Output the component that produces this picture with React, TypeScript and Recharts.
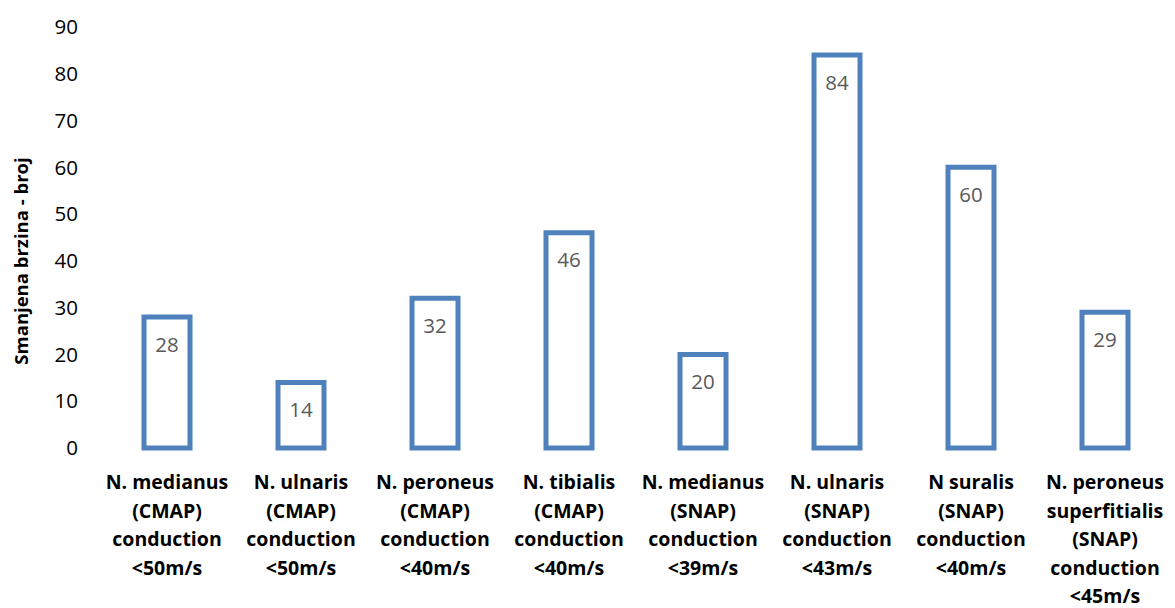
import { Bar, BarChart, LabelList, XAxis, YAxis, Label } from "recharts";

const categories = [
  "N. medianus\n(CMAP)\nconduction\n<50m/s",
  "N. ulnaris\n(CMAP)\nconduction\n<50m/s",
  "N. peroneus\n(CMAP)\nconduction\n<40m/s",
  "N. tibialis\n(CMAP)\nconduction\n<40m/s",
  "N. medianus\n(SNAP)\nconduction\n<39m/s",
  "N. ulnaris\n(SNAP)\nconduction\n<43m/s",
  "N suralis\n(SNAP)\nconduction\n<40m/s",
  "N. peroneus\nsuperfitialis\n(SNAP)\nconduction\n<45m/s",
];
const counts = [28, 14, 32, 46, 20, 84, 60, 29];
const yTicks = [0, 10, 20, 30, 40, 50, 60, 70, 80, 90];
const yTitle = "Smanjena brzina - broj";

const data = categories.map((name, i) => ({ name, value: counts[i] }));

const FONT = "'Open Sans', sans-serif";
const BLUE = "#4f81bd";

function CategoryTick(props: any) {
  const { x, y, payload } = props;
  const lines = String(payload.value).split("\n");
  return (
    <text x={x} y={y + 33} textAnchor="middle" fontFamily={FONT} fontWeight="bold" fontSize={19.5} fill="#000">
      {lines.map((line, i) => (
        <tspan key={i} x={x} dy={i === 0 ? 0 : 28.5}>
          {line}
        </tspan>
      ))}
    </text>
  );
}

function YTitle() {
  return (
    <text
      x={12}
      y={253}
      transform="rotate(-90, 12, 253)"
      textAnchor="middle"
      dominantBaseline="central"
      fontFamily={FONT}
      fontWeight="bold"
      fontSize={18.5}
      fill="#000"
    >
      {yTitle}
    </text>
  );
}

export default function App() {
  return (
    <div style={{ width: 1167, height: 600 }}>
      <BarChart width={1167} height={600} data={data} margin={{ top: 19, right: 3, left: 0, bottom: 0 }}>
        <XAxis dataKey="name" interval={0} tickLine={false} axisLine={false} height={160} tick={<CategoryTick />} />
        <YAxis
          domain={[0, 90]}
          ticks={yTicks}
          width={92}
          tickLine={false}
          axisLine={false}
          tickMargin={16}
          tick={{ fontFamily: FONT, fontSize: 20.5, fill: "#000" }}
        >
          <Label content={<YTitle />} />
        </YAxis>
        <Bar dataKey="value" fill="#fff" stroke={BLUE} strokeWidth={5} barSize={46} isAnimationActive={false}>
          <LabelList
            dataKey="value"
            position="insideTop"
            offset={20}
            style={{ fontFamily: FONT, fontSize: 20.5, fill: "#595959" }}
          />
        </Bar>
      </BarChart>
    </div>
  );
}
